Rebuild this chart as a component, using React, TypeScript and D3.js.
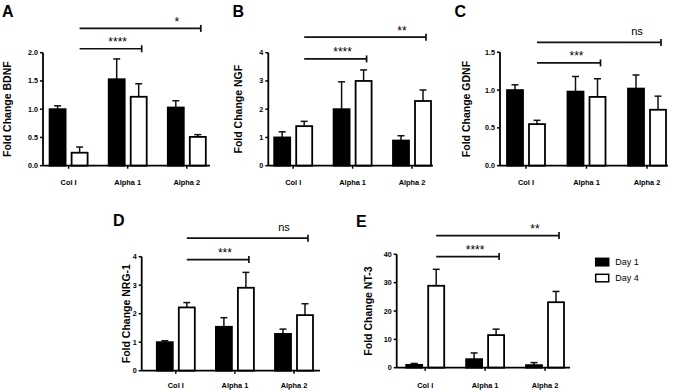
import React from 'react'
import * as d3 from 'd3'

const groups = ['Col I', 'Alpha 1', 'Alpha 2']
const series = ['Day 1', 'Day 4']

// bar means
const bdnfDay1 = [1.0, 1.53, 1.03]
const bdnfDay4 = [0.23, 1.22, 0.51]
const ngfDay1 = [1.0, 2.0, 0.89]
const ngfDay4 = [1.4, 3.0, 2.29]
const gdnfDay1 = [1.0, 0.98, 1.02]
const gdnfDay4 = [0.55, 0.91, 0.74]
const nrgDay1 = [1.0, 1.54, 1.29]
const nrgDay4 = [2.22, 2.91, 1.95]
const nt3Day1 = [1.0, 3.0, 0.9]
const nt3Day4 = [28.9, 11.5, 23.1]

// top of the error bars (mean + SEM)
const bdnfErr1 = [1.06, 1.89, 1.15]
const bdnfErr4 = [0.33, 1.45, 0.55]
const ngfErr1 = [1.2, 2.97, 1.06]
const ngfErr4 = [1.57, 3.39, 2.68]
const gdnfErr1 = [1.07, 1.18, 1.2]
const gdnfErr4 = [0.6, 1.15, 0.92]
const nrgErr1 = [1.05, 1.86, 1.46]
const nrgErr4 = [2.39, 3.45, 2.35]
const nt3Err1 = [1.5, 5.2, 1.8]
const nt3Err4 = [34.7, 13.6, 26.9]

// significance brackets: Col I (Day 4) vs target (Day 4)
const sigTargets = ['Alpha 1', 'Alpha 2']
const bdnfSig = ['****', '*']
const ngfSig = ['****', '**']
const gdnfSig = ['***', 'ns']
const nrgSig = ['***', 'ns']
const nt3Sig = ['****', '**']
// bracket heights in data units
const bdnfSigLevel = [2.07, 2.43]
const ngfSigLevel = [3.78, 4.55]
const gdnfSigLevel = [1.36, 1.63]
const nrgSigLevel = [3.9, 4.65]
const nt3SigLevel = [39.2, 46.6]

const bdnfTicks = [0, 0.5, 1.0, 1.5, 2.0]
const ngfTicks = [0, 1, 2, 3, 4]
const gdnfTicks = [0, 0.5, 1.0, 1.5]
const nrgTicks = [0, 1, 2, 3, 4]
const nt3Ticks = [0, 10, 20, 30, 40]

const font = '"Liberation Sans", Arial, Helvetica, sans-serif'

const panels = [
  {
    letter: 'A', title: 'Fold Change BDNF', d1: bdnfDay1, d4: bdnfDay4, e1: bdnfErr1, e4: bdnfErr4,
    max: 2, ticks: bdnfTicks, fmt: '.1f', sig: bdnfSig, sigLevel: bdnfSigLevel,
    box: { x0: 43, x1: 210, c0: 68.6, step: 59.1, yTop: 52.7, yBot: 165.7, labelX: 11, letterX: 2, letterY: 17.3, xLabelY: 185 },
  },
  {
    letter: 'B', title: 'Fold Change NGF', d1: ngfDay1, d4: ngfDay4, e1: ngfErr1, e4: ngfErr4,
    max: 4, ticks: ngfTicks, fmt: 'd', sig: ngfSig, sigLevel: ngfSigLevel,
    box: { x0: 268.3, x1: 433, c0: 293.2, step: 59.4, yTop: 52.7, yBot: 165.7, labelX: 241.5, letterX: 232.5, letterY: 17.3, xLabelY: 185 },
  },
  {
    letter: 'C', title: 'Fold Change GDNF', d1: gdnfDay1, d4: gdnfDay4, e1: gdnfErr1, e4: gdnfErr4,
    max: 1.5, ticks: gdnfTicks, fmt: '.1f', sig: gdnfSig, sigLevel: gdnfSigLevel,
    box: { x0: 500, x1: 668, c0: 526, step: 60.5, yTop: 52.3, yBot: 165.7, labelX: 469.5, letterX: 454.5, letterY: 17.3, xLabelY: 185 },
  },
  {
    letter: 'D', title: 'Fold Change NRG-1', d1: nrgDay1, d4: nrgDay4, e1: nrgErr1, e4: nrgErr4,
    max: 4, ticks: nrgTicks, fmt: 'd', sig: nrgSig, sigLevel: nrgSigLevel,
    box: { x0: 141.7, x1: 320, c0: 175.8, step: 59.1, yTop: 256.7, yBot: 370.7, labelX: 129.5, letterX: 113, letterY: 226.3, xLabelY: 388 },
  },
  {
    letter: 'E', title: 'Fold Change NT-3', d1: nt3Day1, d4: nt3Day4, e1: nt3Err1, e4: nt3Err4,
    max: 40, ticks: nt3Ticks, fmt: 'd', sig: nt3Sig, sigLevel: nt3SigLevel,
    box: { x0: 396.7, x1: 570, c0: 425.2, step: 59.9, yTop: 254.3, yBot: 367.7, labelX: 371.5, letterX: 356, letterY: 226.7, xLabelY: 388 },
  },
]

const pairWidth = 38

const Panel = ({ p }: { p: any }) => {
  const b = p.box
  const pi = 1 - pairWidth / b.step
  const x = d3
    .scaleBand()
    .domain(groups)
    .range([b.c0 - b.step / 2, b.c0 + 2.5 * b.step])
    .paddingInner(pi)
    .paddingOuter(pi / 2)
  const xs = d3.scaleBand().domain(series).range([0, x.bandwidth()]).paddingInner(0.273)
  const y = d3.scaleLinear().domain([0, p.max]).range([b.yBot, b.yTop])
  const fmt = d3.format(p.fmt)
  const bw = xs.bandwidth()
  const vals = [p.d1, p.d4]
  const errs = [p.e1, p.e4]

  return (
    <g>
      <text x={b.letterX} y={b.letterY} fontSize={16} fontWeight="bold" fontFamily={font}>{p.letter}</text>
      <text
        transform={`translate(${b.labelX},${(b.yTop + b.yBot) / 2}) rotate(-90)`}
        textAnchor="middle" fontSize={10.5} fontWeight="bold" fontFamily={font}
      >{p.title}</text>

      {/* bars + error bars */}
      {groups.map((g, gi) =>
        series.map((s, si) => {
          const bx = (x(g) as number) + (xs(s) as number)
          const cx = bx + bw / 2
          const v = vals[si][gi]
          const e = errs[si][gi]
          return (
            <g key={g + s}>
              <line x1={cx} x2={cx} y1={y(v)} y2={y(e)} stroke="#111" strokeWidth={1.5} />
              <line x1={cx - 3.5} x2={cx + 3.5} y1={y(e)} y2={y(e)} stroke="#111" strokeWidth={1.5} />
              <rect
                x={bx} y={y(v)} width={bw} height={b.yBot - y(v)}
                fill={si === 0 ? '#000' : '#fff'} stroke="#000" strokeWidth={1.8}
              />
            </g>
          )
        })
      )}

      {/* y axis */}
      <line x1={b.x0} x2={b.x0} y1={b.yTop} y2={b.yBot} stroke="#000" strokeWidth={1.8} />
      {p.ticks.map((t: number) => (
        <g key={t}>
          <line x1={b.x0 - 3} x2={b.x0} y1={y(t)} y2={y(t)} stroke="#000" strokeWidth={1.5} />
          <text x={b.x0 - 5} y={y(t)} dy="0.35em" textAnchor="end" fontSize={7.2} fontWeight="bold" fontFamily={font}>
            {fmt(t)}
          </text>
        </g>
      ))}

      {/* x axis */}
      <line x1={b.x0} x2={b.x1} y1={b.yBot} y2={b.yBot} stroke="#000" strokeWidth={1.8} />
      {groups.map((g) => {
        const cx = (x(g) as number) + x.bandwidth() / 2
        return (
          <g key={g}>
            <line x1={cx} x2={cx} y1={b.yBot} y2={b.yBot + 3} stroke="#000" strokeWidth={1.5} />
            <text x={cx} y={b.xLabelY} textAnchor="middle" fontSize={7.4} fontWeight="bold" fontFamily={font}>{g}</text>
          </g>
        )
      })}

      {/* significance brackets */}
      {sigTargets.map((t, i) => {
        const xa = (x('Col I') as number) + (xs('Day 4') as number) + bw / 2
        const xb = (x(t) as number) + (xs('Day 4') as number) + bw / 2 + 3
        const ly = y(p.sigLevel[i])
        const isNs = p.sig[i] === 'ns'
        return (
          <g key={t}>
            <line x1={xa} x2={xb} y1={ly} y2={ly} stroke="#111" strokeWidth={1.7} />
            <line x1={xb} x2={xb} y1={ly - 3.5} y2={ly + 3.5} stroke="#111" strokeWidth={1.7} />
            <text
              x={xb - 24} y={isNs ? ly - 7.6 : ly - 2.5} textAnchor="middle"
              fontSize={isNs ? 11 : 12} fontFamily={font}
            >{p.sig[i]}</text>
          </g>
        )
      })}
    </g>
  )
}

const App = () => {
  return (
    <svg width={673} height={391} style={{ position: 'absolute', left: 0, top: 0, background: '#fff' }}>
      {panels.map((p) => (
        <Panel key={p.letter} p={p} />
      ))}
      {/* legend */}
      {series.map((s, i) => (
        <g key={s} transform={`translate(595.7,${258.3 + i * 16})`}>
          <rect x={0} y={0} width={13} height={7.5} fill={i === 0 ? '#000' : '#fff'} stroke="#000" strokeWidth={1.5} />
          <text x={19.5} y={3.9} dy="0.35em" fontSize={9} fontFamily={font}>{s}</text>
        </g>
      ))}
    </svg>
  )
}

export default App
